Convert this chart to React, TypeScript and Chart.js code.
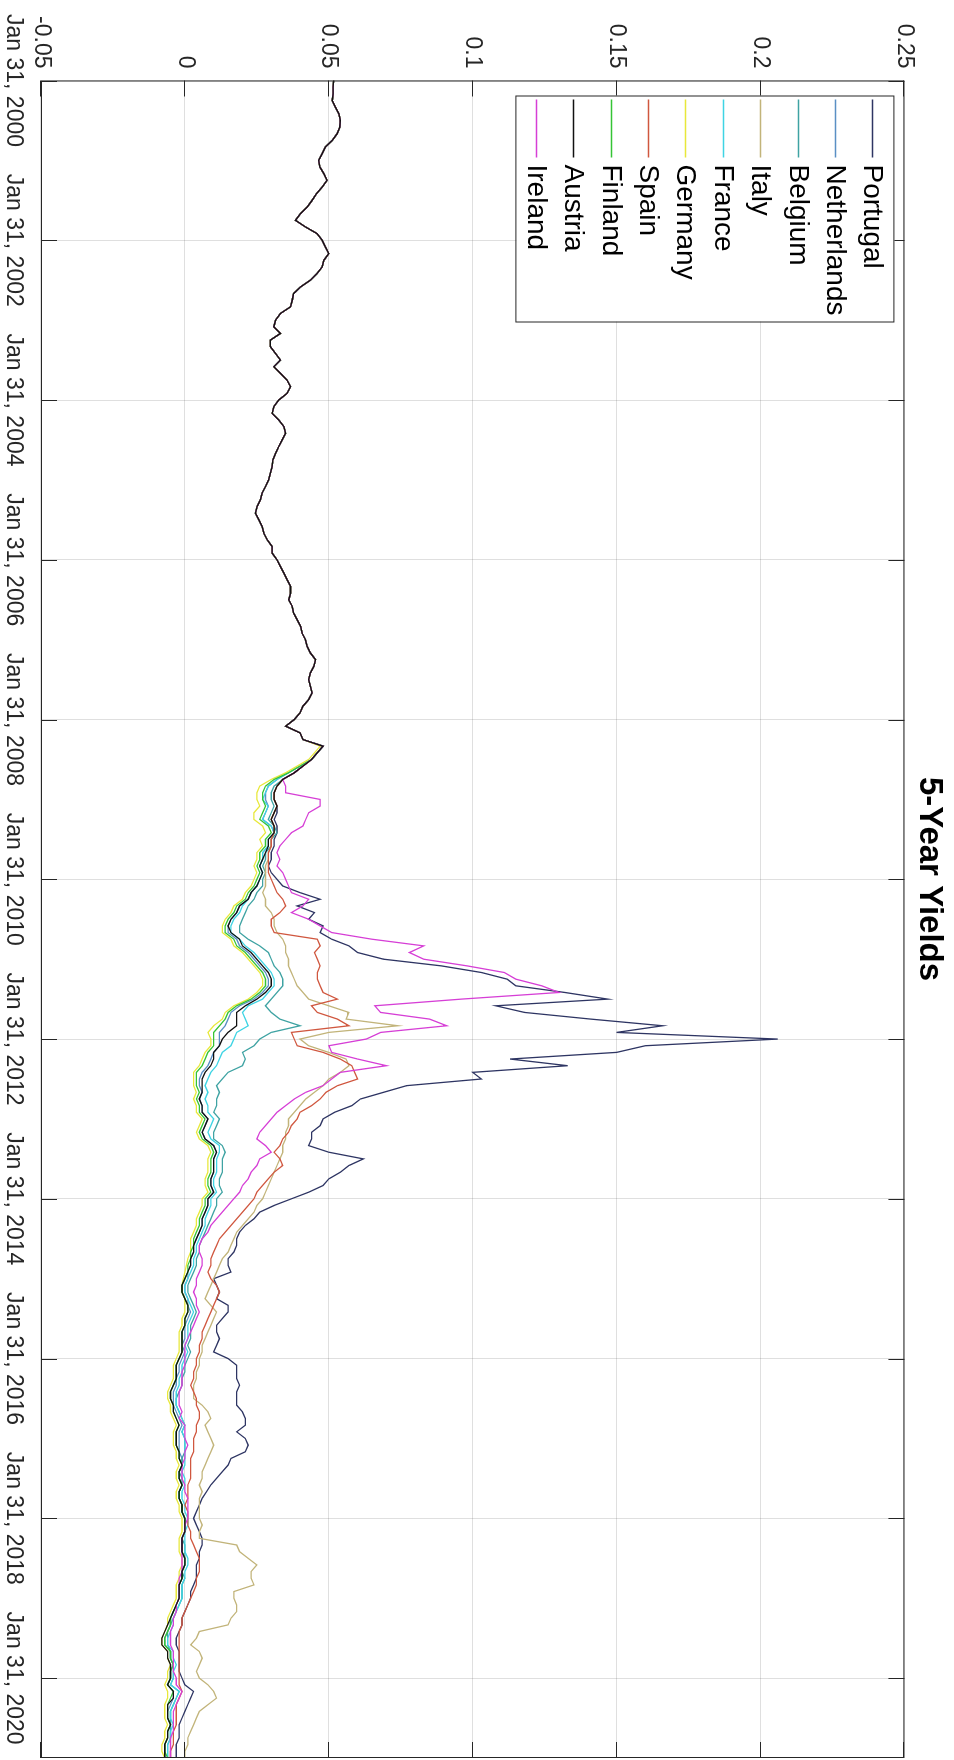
import React, { useEffect, useRef } from 'react';
import { Chart, registerables } from 'chart.js';

Chart.register(...registerables);

// ---------- data ----------
const COUNTRIES = ['Portugal', 'Netherlands', 'Belgium', 'Italy', 'France', 'Germany', 'Spain', 'Finland', 'Austria', 'Ireland'];
const COLORS = ['#2e3563', '#5a8fc4', '#3fa3a3', '#c2b47a', '#3fd4e4', '#e8e83a', '#d0573f', '#35c435', '#111111', '#d63fd6'];
const DRAW_ORDER = [9, 8, 7, 6, 5, 4, 3, 2, 0, 1];

// month index 0 = Jan 2000
const TICK_MONTHS = [0, 24, 48, 72, 96, 120, 144, 168, 192, 216, 240];
const TICK_LABELS = ['Jan 31, 2000', 'Jan 31, 2002', 'Jan 31, 2004', 'Jan 31, 2006', 'Jan 31, 2008', 'Jan 31, 2010', 'Jan 31, 2012', 'Jan 31, 2014', 'Jan 31, 2016', 'Jan 31, 2018', 'Jan 31, 2020'];
const Y_TICKS = [-0.05, 0, 0.05, 0.1, 0.15, 0.2, 0.25];
const Y_TICK_LABELS = ['-0.05', '0', '0.05', '0.1', '0.15', '0.2', '0.25'];

// common path Jan 2000 - Dec 2007 (all series overlap)
const PRE_2008 = [
  0.0517, 0.0515, 0.0515, 0.0512, 0.0523, 0.0535, 0.054, 0.0538, 0.0529, 0.0512, 0.0488, 0.0477,
  0.0465, 0.0469, 0.0483, 0.0494, 0.0477, 0.0457, 0.0442, 0.0425, 0.0402, 0.0384, 0.0419, 0.0459,
  0.0477, 0.0488, 0.050, 0.0483, 0.0477, 0.0459, 0.0436, 0.0402, 0.0378, 0.0373, 0.0367, 0.0332,
  0.0315, 0.0309, 0.0332, 0.0297, 0.0297, 0.0315, 0.0332, 0.0309, 0.0332, 0.0355, 0.0367, 0.0355,
  0.0326, 0.0309, 0.0303, 0.0326, 0.0344, 0.035, 0.0338, 0.0326, 0.0315, 0.0306, 0.0303, 0.0297,
  0.0291, 0.028, 0.0268, 0.0262, 0.0251, 0.0245, 0.0257, 0.0268, 0.0274, 0.0286, 0.0303, 0.0303,
  0.032, 0.0332, 0.0344, 0.0355, 0.0367, 0.0367, 0.0361, 0.0373, 0.0378, 0.039, 0.0402, 0.0407,
  0.0419, 0.0425, 0.0436, 0.0454, 0.0448, 0.0436, 0.043, 0.0436, 0.0442, 0.043, 0.041, 0.040,
];

// Jan 2008 - Jan 2021, monthly
const PORTUGAL = [
  0.038, 0.035, 0.040, 0.041, 0.048, 0.046, 0.044, 0.041, 0.038, 0.034, 0.032, 0.031,
  0.031, 0.032, 0.032, 0.031, 0.032, 0.032, 0.031, 0.031, 0.030, 0.030, 0.029, 0.030,
  0.032, 0.034, 0.040, 0.047, 0.039, 0.045, 0.043, 0.048, 0.047, 0.051, 0.057, 0.060,
  0.069, 0.089, 0.103, 0.112, 0.115, 0.132, 0.147, 0.108, 0.118, 0.141, 0.166, 0.150,
  0.206, 0.160, 0.150, 0.113, 0.133, 0.100, 0.103, 0.077, 0.069, 0.061, 0.058, 0.052,
  0.048, 0.047, 0.044, 0.044, 0.043, 0.050, 0.062, 0.057, 0.054, 0.050, 0.048, 0.043,
  0.037, 0.031, 0.026, 0.024, 0.021, 0.019, 0.018, 0.018, 0.017, 0.015, 0.015, 0.016,
  0.010, 0.011, 0.012, 0.011, 0.015, 0.015, 0.013, 0.011, 0.011, 0.012, 0.011, 0.010,
  0.015, 0.018, 0.018, 0.018, 0.019, 0.018, 0.018, 0.018, 0.020, 0.021, 0.021, 0.018,
  0.021, 0.022, 0.021, 0.016, 0.015, 0.013, 0.011, 0.009, 0.0075, 0.006, 0.005, 0.004,
  0.003, 0.004, 0.005, 0.006, 0.006, 0.005, 0.005, 0.004, 0.004, 0.004, 0.003, 0.002,
  0.002, 0.001, 0.000, -0.001, -0.001, -0.002, -0.003, -0.003, -0.002, -0.002, -0.002, -0.002,
  -0.001, 0.000, 0.003, 0.002, 0.001, 0.000, -0.001, -0.002, -0.002, -0.002, -0.003, -0.003,
  -0.003,
];
const NETHERLANDS = [
  0.038, 0.035, 0.040, 0.041, 0.048, 0.046, 0.044, 0.040, 0.036, 0.032, 0.029, 0.028,
  0.028, 0.029, 0.028, 0.027, 0.030, 0.031, 0.029, 0.029, 0.027, 0.027, 0.026, 0.027,
  0.026, 0.025, 0.023, 0.022, 0.019, 0.018, 0.016, 0.015, 0.015, 0.018, 0.019, 0.022,
  0.024, 0.026, 0.028, 0.029, 0.029, 0.027, 0.024, 0.019, 0.016, 0.015, 0.014, 0.012,
  0.012, 0.012, 0.010, 0.009, 0.008, 0.006, 0.005, 0.005, 0.006, 0.005, 0.006, 0.006,
  0.008, 0.007, 0.006, 0.007, 0.010, 0.011, 0.010, 0.010, 0.010, 0.009, 0.009, 0.010,
  0.008, 0.008, 0.007, 0.006, 0.006, 0.005, 0.004, 0.003, 0.003, 0.002, 0.002, 0.001,
  0.001, 0.000, 0.000, 0.001, 0.001, 0.002, 0.001, 0.000, 0.000, 0.000, -0.001, 0.000,
  -0.001, -0.002, -0.002, -0.003, -0.003, -0.004, -0.004, -0.004, -0.003, -0.002, -0.001, -0.002,
  -0.002, -0.002, -0.002, -0.001, -0.001, -0.002, -0.002, -0.001, -0.002, -0.002, -0.001, -0.001,
  0.000, 0.000, 0.000, -0.001, -0.001, -0.001, 0.000, 0.000, -0.001, -0.001, -0.002, -0.002,
  -0.002, -0.003, -0.004, -0.005, -0.005, -0.006, -0.007, -0.007, -0.005, -0.005, -0.004, -0.005,
  -0.005, -0.006, -0.004, -0.004, -0.005, -0.006, -0.006, -0.005, -0.006, -0.006, -0.007, -0.007,
  -0.007,
];
const BELGIUM = [
  0.038, 0.035, 0.040, 0.041, 0.048, 0.046, 0.044, 0.041, 0.038, 0.034, 0.031, 0.030,
  0.030, 0.031, 0.030, 0.029, 0.031, 0.032, 0.030, 0.030, 0.028, 0.028, 0.027, 0.028,
  0.027, 0.027, 0.025, 0.024, 0.022, 0.021, 0.020, 0.019, 0.019, 0.022, 0.026, 0.029,
  0.030, 0.031, 0.033, 0.034, 0.034, 0.032, 0.030, 0.028, 0.030, 0.033, 0.040, 0.030,
  0.026, 0.024, 0.020, 0.021, 0.020, 0.015, 0.013, 0.011, 0.012, 0.011, 0.011, 0.010,
  0.012, 0.011, 0.010, 0.010, 0.013, 0.014, 0.013, 0.013, 0.013, 0.012, 0.012, 0.013,
  0.011, 0.011, 0.010, 0.009, 0.008, 0.007, 0.006, 0.005, 0.005, 0.004, 0.004, 0.003,
  0.002, 0.001, 0.001, 0.002, 0.003, 0.004, 0.003, 0.002, 0.002, 0.002, 0.001, 0.002,
  0.001, 0.000, 0.000, -0.001, -0.001, -0.002, -0.003, -0.003, -0.002, -0.001, 0.000, -0.001,
  0.000, 0.000, 0.000, -0.001, -0.001, -0.002, -0.001, -0.001, -0.002, -0.002, -0.001, -0.001,
  0.000, 0.000, 0.000, -0.001, 0.000, 0.000, 0.000, 0.000, -0.001, 0.000, -0.001, -0.001,
  -0.001, -0.002, -0.003, -0.004, -0.005, -0.006, -0.006, -0.006, -0.005, -0.005, -0.004, -0.004,
  -0.004, -0.005, -0.002, -0.003, -0.004, -0.005, -0.005, -0.005, -0.005, -0.005, -0.006, -0.006,
  -0.006,
];
const ITALY = [
  0.038, 0.035, 0.040, 0.041, 0.048, 0.046, 0.044, 0.041, 0.038, 0.034, 0.032, 0.031,
  0.031, 0.032, 0.031, 0.030, 0.031, 0.031, 0.030, 0.030, 0.029, 0.029, 0.028, 0.028,
  0.028, 0.028, 0.027, 0.028, 0.028, 0.030, 0.031, 0.031, 0.032, 0.034, 0.035, 0.035,
  0.036, 0.036, 0.037, 0.038, 0.039, 0.041, 0.043, 0.050, 0.057, 0.056, 0.074, 0.050,
  0.040, 0.043, 0.050, 0.056, 0.057, 0.054, 0.050, 0.048, 0.045, 0.042, 0.040, 0.038,
  0.036, 0.036, 0.035, 0.035, 0.034, 0.034, 0.033, 0.032, 0.031, 0.030, 0.029, 0.028,
  0.027, 0.025, 0.024, 0.022, 0.020, 0.018, 0.017, 0.016, 0.015, 0.013, 0.012, 0.011,
  0.010, 0.009, 0.008, 0.007, 0.009, 0.011, 0.010, 0.009, 0.008, 0.007, 0.006, 0.006,
  0.005, 0.005, 0.004, 0.004, 0.003, 0.003, 0.003, 0.006, 0.008, 0.009, 0.007, 0.008,
  0.009, 0.010, 0.009, 0.008, 0.007, 0.006, 0.006, 0.005, 0.006, 0.005, 0.005, 0.005,
  0.005, 0.006, 0.005, 0.005, 0.018, 0.019, 0.022, 0.025, 0.023, 0.023, 0.024, 0.017,
  0.017, 0.018, 0.018, 0.016, 0.015, 0.005, 0.004, 0.002, 0.005, 0.006, 0.005, 0.004,
  0.005, 0.008, 0.010, 0.011, 0.008, 0.005, 0.004, 0.003, 0.002, 0.001, 0.001, 0.000,
  0.000,
];
const FRANCE = [
  0.038, 0.035, 0.040, 0.041, 0.048, 0.046, 0.044, 0.040, 0.036, 0.032, 0.029, 0.028,
  0.027, 0.029, 0.028, 0.027, 0.030, 0.031, 0.029, 0.029, 0.027, 0.027, 0.026, 0.027,
  0.026, 0.025, 0.023, 0.022, 0.020, 0.019, 0.017, 0.016, 0.016, 0.019, 0.021, 0.024,
  0.026, 0.028, 0.030, 0.031, 0.031, 0.029, 0.027, 0.022, 0.020, 0.021, 0.022, 0.018,
  0.017, 0.016, 0.013, 0.012, 0.011, 0.009, 0.008, 0.007, 0.008, 0.007, 0.008, 0.008,
  0.010, 0.009, 0.008, 0.009, 0.012, 0.012, 0.011, 0.011, 0.011, 0.010, 0.010, 0.011,
  0.009, 0.009, 0.008, 0.007, 0.007, 0.006, 0.005, 0.004, 0.004, 0.003, 0.003, 0.002,
  0.001, 0.000, 0.000, 0.001, 0.002, 0.003, 0.002, 0.001, 0.001, 0.001, 0.000, 0.001,
  0.000, -0.001, -0.001, -0.002, -0.002, -0.003, -0.003, -0.003, -0.002, -0.001, 0.000, -0.001,
  0.000, 0.000, 0.000, 0.000, 0.000, -0.001, 0.000, 0.000, -0.001, -0.001, 0.000, 0.000,
  0.001, 0.001, 0.000, 0.000, 0.000, 0.000, 0.001, 0.001, 0.000, 0.000, -0.001, -0.001,
  -0.001, -0.002, -0.003, -0.004, -0.004, -0.005, -0.006, -0.006, -0.004, -0.004, -0.003, -0.004,
  -0.004, -0.005, -0.002, -0.003, -0.004, -0.005, -0.005, -0.004, -0.005, -0.005, -0.006, -0.006,
  -0.006,
];
const GERMANY = [
  0.038, 0.035, 0.040, 0.041, 0.047, 0.045, 0.043, 0.039, 0.035, 0.030, 0.026, 0.025,
  0.025, 0.026, 0.024, 0.024, 0.027, 0.028, 0.026, 0.027, 0.025, 0.025, 0.024, 0.025,
  0.024, 0.023, 0.021, 0.020, 0.017, 0.016, 0.014, 0.013, 0.013, 0.016, 0.017, 0.020,
  0.022, 0.024, 0.026, 0.027, 0.027, 0.025, 0.022, 0.017, 0.014, 0.013, 0.010, 0.008,
  0.009, 0.009, 0.007, 0.006, 0.005, 0.003, 0.003, 0.003, 0.004, 0.003, 0.004, 0.004,
  0.006, 0.005, 0.004, 0.005, 0.008, 0.009, 0.008, 0.008, 0.008, 0.007, 0.007, 0.008,
  0.006, 0.006, 0.005, 0.004, 0.004, 0.003, 0.002, 0.002, 0.002, 0.001, 0.0005, 0.000,
  -0.0005, -0.001, -0.001, 0.000, 0.000, 0.000, -0.001, -0.001, -0.002, -0.002, -0.002, -0.002,
  -0.003, -0.004, -0.004, -0.004, -0.005, -0.006, -0.006, -0.005, -0.005, -0.004, -0.003, -0.004,
  -0.004, -0.004, -0.003, -0.003, -0.002, -0.003, -0.003, -0.002, -0.003, -0.003, -0.002, -0.002,
  -0.001, -0.001, -0.001, -0.002, -0.002, -0.002, -0.001, -0.001, -0.002, -0.002, -0.003, -0.003,
  -0.003, -0.004, -0.005, -0.006, -0.006, -0.007, -0.008, -0.008, -0.006, -0.006, -0.005, -0.006,
  -0.006, -0.007, -0.006, -0.006, -0.007, -0.007, -0.007, -0.006, -0.007, -0.007, -0.008, -0.008,
  -0.007,
];
const SPAIN = [
  0.038, 0.035, 0.040, 0.041, 0.048, 0.046, 0.044, 0.041, 0.038, 0.034, 0.032, 0.031,
  0.031, 0.032, 0.031, 0.030, 0.031, 0.031, 0.030, 0.030, 0.029, 0.029, 0.029, 0.029,
  0.030, 0.031, 0.032, 0.034, 0.035, 0.033, 0.030, 0.030, 0.031, 0.046, 0.047, 0.045,
  0.046, 0.047, 0.046, 0.046, 0.047, 0.048, 0.053, 0.044, 0.046, 0.053, 0.057, 0.037,
  0.038, 0.039, 0.048, 0.054, 0.058, 0.059, 0.060, 0.053, 0.049, 0.047, 0.044, 0.040,
  0.039, 0.037, 0.036, 0.034, 0.033, 0.031, 0.033, 0.034, 0.031, 0.029, 0.027, 0.025,
  0.024, 0.022, 0.020, 0.018, 0.016, 0.014, 0.012, 0.011, 0.010, 0.009, 0.009, 0.008,
  0.009, 0.011, 0.012, 0.011, 0.010, 0.009, 0.008, 0.007, 0.006, 0.006, 0.005, 0.005,
  0.004, 0.004, 0.003, 0.003, 0.002, 0.003, 0.004, 0.004, 0.005, 0.005, 0.004, 0.004,
  0.003, 0.003, 0.003, 0.002, 0.002, 0.002, 0.002, 0.001, 0.001, 0.001, 0.000, 0.001,
  0.001, 0.001, 0.002, 0.002, 0.003, 0.004, 0.005, 0.005, 0.005, 0.004, 0.004, 0.003,
  0.002, 0.001, 0.000, -0.001, -0.001, -0.002, -0.002, -0.002, -0.002, -0.002, -0.002, -0.002,
  -0.002, -0.002, -0.001, -0.002, -0.003, -0.003, -0.003, -0.003, -0.004, -0.004, -0.004, -0.005,
  -0.005,
];
const FINLAND = [
  0.038, 0.035, 0.040, 0.041, 0.048, 0.046, 0.044, 0.040, 0.036, 0.031, 0.028, 0.027,
  0.027, 0.028, 0.027, 0.026, 0.029, 0.030, 0.028, 0.028, 0.026, 0.026, 0.025, 0.026,
  0.025, 0.024, 0.022, 0.021, 0.018, 0.017, 0.015, 0.014, 0.014, 0.017, 0.018, 0.021,
  0.023, 0.025, 0.027, 0.028, 0.028, 0.026, 0.023, 0.018, 0.015, 0.014, 0.012, 0.010,
  0.010, 0.010, 0.008, 0.007, 0.006, 0.004, 0.004, 0.004, 0.005, 0.004, 0.005, 0.005,
  0.007, 0.006, 0.005, 0.006, 0.009, 0.010, 0.009, 0.009, 0.009, 0.008, 0.008, 0.009,
  0.007, 0.007, 0.006, 0.005, 0.005, 0.004, 0.003, 0.003, 0.002, 0.002, 0.001, 0.001,
  0.000, -0.001, -0.001, 0.000, 0.001, 0.001, 0.000, 0.000, -0.001, -0.001, -0.001, -0.001,
  -0.002, -0.003, -0.003, -0.003, -0.004, -0.005, -0.005, -0.004, -0.004, -0.003, -0.002, -0.003,
  -0.003, -0.003, -0.002, -0.002, -0.001, -0.002, -0.002, -0.001, -0.002, -0.002, -0.001, -0.001,
  0.000, 0.000, 0.000, -0.001, -0.001, -0.001, 0.000, 0.000, -0.001, -0.001, -0.002, -0.002,
  -0.002, -0.003, -0.004, -0.005, -0.005, -0.006, -0.007, -0.007, -0.005, -0.005, -0.004, -0.005,
  -0.005, -0.006, -0.004, -0.005, -0.006, -0.006, -0.006, -0.005, -0.006, -0.006, -0.007, -0.007,
  -0.006,
];
const AUSTRIA = [
  0.038, 0.035, 0.040, 0.041, 0.048, 0.046, 0.044, 0.041, 0.038, 0.034, 0.032, 0.031,
  0.031, 0.032, 0.031, 0.030, 0.031, 0.031, 0.029, 0.029, 0.028, 0.027, 0.026, 0.027,
  0.026, 0.025, 0.023, 0.022, 0.019, 0.018, 0.016, 0.015, 0.016, 0.019, 0.020, 0.023,
  0.025, 0.027, 0.029, 0.030, 0.030, 0.028, 0.025, 0.021, 0.018, 0.018, 0.018, 0.015,
  0.013, 0.012, 0.010, 0.010, 0.009, 0.007, 0.006, 0.006, 0.006, 0.005, 0.006, 0.006,
  0.008, 0.007, 0.006, 0.007, 0.010, 0.011, 0.010, 0.010, 0.010, 0.009, 0.009, 0.010,
  0.008, 0.008, 0.007, 0.006, 0.006, 0.005, 0.004, 0.003, 0.003, 0.002, 0.002, 0.001,
  0.000, -0.001, -0.001, 0.000, 0.001, 0.001, 0.000, 0.000, -0.001, -0.001, -0.001, -0.001,
  -0.002, -0.003, -0.003, -0.003, -0.004, -0.005, -0.005, -0.004, -0.004, -0.003, -0.002, -0.003,
  -0.003, -0.003, -0.002, -0.002, -0.001, -0.002, -0.002, -0.001, -0.002, -0.002, -0.001, -0.001,
  0.000, 0.000, 0.000, -0.001, -0.001, -0.001, 0.000, 0.000, -0.001, -0.001, -0.002, -0.002,
  -0.002, -0.003, -0.004, -0.005, -0.006, -0.007, -0.008, -0.008, -0.006, -0.006, -0.005, -0.005,
  -0.005, -0.006, -0.004, -0.004, -0.006, -0.006, -0.006, -0.005, -0.006, -0.006, -0.007, -0.007,
  -0.007,
];
const IRELAND = [
  0.038, 0.035, 0.040, 0.041, 0.048, 0.046, 0.044, 0.041, 0.038, 0.034, 0.035, 0.035,
  0.047, 0.047, 0.043, 0.042, 0.041, 0.037, 0.035, 0.033, 0.032, 0.033, 0.032, 0.034,
  0.035, 0.036, 0.037, 0.043, 0.041, 0.037, 0.043, 0.047, 0.051, 0.065, 0.083, 0.078,
  0.083, 0.098, 0.111, 0.115, 0.124, 0.130, 0.096, 0.066, 0.068, 0.085, 0.091, 0.068,
  0.063, 0.050, 0.051, 0.060, 0.070, 0.054, 0.051, 0.048, 0.042, 0.038, 0.035, 0.032,
  0.030, 0.028, 0.026, 0.025, 0.028, 0.030, 0.026, 0.025, 0.023, 0.022, 0.020, 0.019,
  0.017, 0.015, 0.013, 0.011, 0.009, 0.008, 0.006, 0.005, 0.005, 0.006, 0.006, 0.005,
  0.004, 0.004, 0.003, 0.004, 0.004, 0.005, 0.004, 0.003, 0.002, 0.001, 0.000, 0.000,
  0.000, 0.000, -0.001, -0.001, -0.001, -0.002, -0.002, -0.002, -0.001, -0.002, 0.000, 0.000,
  0.000, 0.001, 0.000, 0.000, -0.001, -0.001, -0.001, 0.000, 0.000, 0.001, 0.001, 0.001,
  0.001, 0.000, 0.000, -0.001, -0.001, -0.001, -0.001, -0.001, -0.001, -0.002, -0.002, -0.002,
  -0.002, -0.003, -0.003, -0.004, -0.004, -0.005, -0.005, -0.005, -0.004, -0.004, -0.004, -0.004,
  -0.003, -0.003, -0.001, -0.002, -0.003, -0.004, -0.004, -0.004, -0.004, -0.005, -0.005, -0.005,
  -0.005,
];

const SERIES = [
  [...PRE_2008, ...PORTUGAL],
  [...PRE_2008, ...NETHERLANDS],
  [...PRE_2008, ...BELGIUM],
  [...PRE_2008, ...ITALY],
  [...PRE_2008, ...FRANCE],
  [...PRE_2008, ...GERMANY],
  [...PRE_2008, ...SPAIN],
  [...PRE_2008, ...FINLAND],
  [...PRE_2008, ...AUSTRIA],
  [...PRE_2008, ...IRELAND],
];

const TITLE = '5-Year Yields';
const FONT = "'Liberation Sans', Arial, Helvetica, sans-serif";

// ---------- plugins ----------
const framePlugin = {
  id: 'matlabFrame',
  afterDraw(chart: any) {
    const { ctx, chartArea: a, scales } = chart;
    const TL = 16;
    ctx.save();
    ctx.strokeStyle = '#262626';
    ctx.lineWidth = 1;
    ctx.strokeRect(a.left + 0.5, a.top + 0.5, a.right - a.left - 1, a.bottom - a.top - 1);
    ctx.beginPath();
    for (const m of TICK_MONTHS) {
      const x = Math.round(scales.x.getPixelForValue(m)) + 0.5;
      ctx.moveTo(x, a.bottom);
      ctx.lineTo(x, a.bottom - TL);
      ctx.moveTo(x, a.top);
      ctx.lineTo(x, a.top + TL);
    }
    for (const v of Y_TICKS) {
      const y = Math.round(scales.y.getPixelForValue(v)) + 0.5;
      ctx.moveTo(a.left, y);
      ctx.lineTo(a.left + TL, y);
      ctx.moveTo(a.right, y);
      ctx.lineTo(a.right - TL, y);
    }
    ctx.stroke();
    ctx.restore();
  },
};

const legendPlugin = {
  id: 'matlabLegend',
  afterDraw(chart: any) {
    const { ctx, chartArea: a } = chart;
    const bx = a.left + 15;
    const by = a.top + 10;
    const bw = 226;
    const bh = 378;
    const rowH = 37.4;
    ctx.save();
    ctx.fillStyle = '#ffffff';
    ctx.fillRect(bx, by, bw, bh);
    ctx.strokeStyle = '#262626';
    ctx.lineWidth = 1;
    ctx.strokeRect(bx + 0.5, by + 0.5, bw, bh);
    ctx.font = `28px ${FONT}`;
    ctx.textBaseline = 'middle';
    ctx.textAlign = 'left';
    chart.data.datasets.forEach((ds: any, i: number) => {
      const cy = Math.round(by + 21 + rowH * i) + 0.5;
      ctx.strokeStyle = ds.borderColor;
      ctx.lineWidth = 1.3;
      ctx.beginPath();
      ctx.moveTo(bx + 4, cy);
      ctx.lineTo(bx + 62, cy);
      ctx.stroke();
      ctx.fillStyle = '#000000';
      ctx.fillText(ds.label, bx + 69, cy + 1);
    });
    ctx.restore();
  },
};

export default function App() {
  const ref = useRef<HTMLCanvasElement | null>(null);

  useEffect(() => {
    if (!ref.current) return;
    const datasets = COUNTRIES.map((name, i) => ({
      label: name,
      data: SERIES[i].map((v, m) => ({ x: m, y: v })),
      borderColor: COLORS[i],
      backgroundColor: COLORS[i],
      borderWidth: 1.3,
      pointRadius: 0,
      tension: 0,
      fill: false,
      order: DRAW_ORDER[i],
    }));
    const tickFont = { family: FONT, size: 23 };
    const chart = new Chart(ref.current, {
      type: 'line',
      data: { datasets },
      options: {
        animation: false,
        responsive: false,
        devicePixelRatio: 1,
        parsing: false,
        normalized: true,
        layout: { padding: { left: 0, right: 2, top: 0, bottom: 0 } },
        plugins: {
          legend: { display: false },
          tooltip: { enabled: false },
          title: {
            display: true,
            text: TITLE,
            color: '#000000',
            font: { family: FONT, size: 33, weight: 'bold' },
            padding: { top: 5, bottom: 5 },
          },
        },
        scales: {
          x: {
            type: 'linear',
            min: 0,
            max: SERIES[0].length - 1,
            afterBuildTicks: (s: any) => {
              s.ticks = TICK_MONTHS.map((v) => ({ value: v }));
            },
            afterFit: (s: any) => {
              s.height = 41;
            },
            ticks: {
              autoSkip: false,
              maxRotation: 0,
              minRotation: 0,
              padding: 14,
              color: '#262626',
              font: tickFont,
              callback: (v: any) => {
                const k = TICK_MONTHS.indexOf(Number(v));
                return k >= 0 ? TICK_LABELS[k] : '';
              },
            },
            grid: { color: 'rgba(38,38,38,0.15)', drawTicks: false, lineWidth: 1 },
            border: { display: false },
          },
          y: {
            type: 'linear',
            min: -0.05,
            max: 0.25,
            afterBuildTicks: (s: any) => {
              s.ticks = Y_TICKS.map((v) => ({ value: v }));
            },
            afterFit: (s: any) => {
              s.width = 74;
            },
            ticks: {
              autoSkip: false,
              padding: 12,
              color: '#262626',
              font: tickFont,
              callback: (v: any) => {
                const k = Y_TICKS.findIndex((t) => Math.abs(t - Number(v)) < 1e-9);
                return k >= 0 ? Y_TICK_LABELS[k] : '';
              },
            },
            grid: { color: 'rgba(38,38,38,0.15)', drawTicks: false, lineWidth: 1 },
            border: { display: false },
          },
        },
      },
      plugins: [framePlugin, legendPlugin],
    } as any);
    return () => chart.destroy();
  }, []);

  return (
    <div style={{ position: 'absolute', left: 0, top: 0, width: 954, height: 1760, overflow: 'hidden', background: '#ffffff' }}>
      <div
        style={{
          position: 'absolute',
          left: 0,
          top: 0,
          width: 1760,
          height: 954,
          transformOrigin: '0 0',
          transform: 'translate(954px, 0px) rotate(90deg)',
        }}
      >
        <canvas ref={ref} width={1760} height={954} style={{ display: 'block', width: 1760, height: 954 }} />
      </div>
    </div>
  );
}
